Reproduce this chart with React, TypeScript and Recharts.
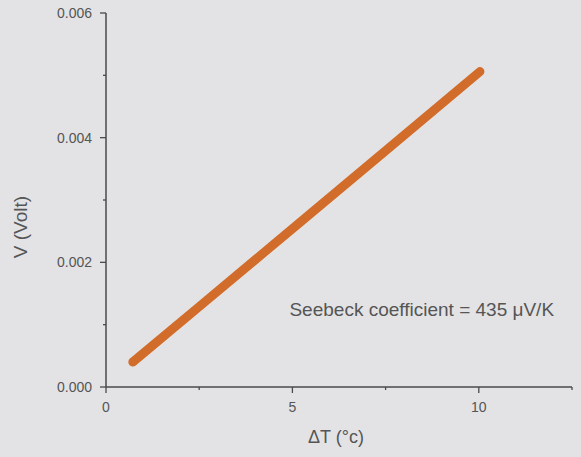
import React from "react";
import { LineChart, Line, XAxis, YAxis, ReferenceDot, Label } from "recharts";

const deltaT = [0.72, 2.5, 5.0, 7.5, 10.03];
const voltage = [0.0004, 0.00129, 0.00254, 0.00379, 0.00506];
const xTicks = [0, 2.5, 5, 7.5, 10, 12.5];
const yTicks = [0, 0.001, 0.002, 0.003, 0.004, 0.005, 0.006];
const annotation = "Seebeck coefficient = 435 \u03bcV/K";
const xTitle = "\u0394T (\u00b0c)";
const yTitle = "V (Volt)";

const data = deltaT.map((t, i) => ({ t, v: voltage[i] }));

const AXIS = "#4a4a4a";
const TEXT = "#555555";
const FONT = "'Liberation Sans', Arial, sans-serif";

const XTick = (props: any) => {
  const { x, y, payload } = props;
  const v = payload.value;
  const major = Math.abs(v % 5) < 1e-9;
  return (
    <g>
      <line x1={x} x2={x} y1={y} y2={y + (major ? 6 : 3)} stroke={AXIS} strokeWidth={1.3} />
      {major && v <= 10 && (
        <text x={x} y={y + 25} textAnchor="middle" fontSize={14} fill={TEXT} fontFamily={FONT}>
          {v}
        </text>
      )}
    </g>
  );
};

const YTick = (props: any) => {
  const { x, y, payload } = props;
  const v = payload.value;
  const major = Math.round(v * 1000) % 2 === 0;
  return (
    <g>
      <line x1={x} x2={x - (major ? 6 : 3)} y1={y} y2={y} stroke={AXIS} strokeWidth={1.3} />
      {major && (
        <text x={x - 14} y={y + 5} textAnchor="end" fontSize={14} fill={TEXT} fontFamily={FONT}>
          {v.toFixed(3)}
        </text>
      )}
    </g>
  );
};

const YTitle = () => (
  <text
    transform="translate(20,227) rotate(-90)"
    textAnchor="middle"
    dominantBaseline="central"
    fontSize={19}
    fill={TEXT}
    fontFamily={FONT}
  >
    {yTitle}
  </text>
);

const XTitle = () => (
  <text x={336} y={443} textAnchor="middle" fontSize={18} fill={TEXT} fontFamily={FONT}>
    {xTitle}
  </text>
);

export default function App() {
  return (
    <div style={{ position: "absolute", left: 0, top: 0, width: 581, height: 457, background: "#e3e3e5" }}>
      <LineChart width={581} height={457} data={data} margin={{ top: 13, right: 9, left: 46, bottom: 40 }}>
        <XAxis
          dataKey="t"
          type="number"
          domain={[0, 12.5]}
          ticks={xTicks}
          interval={0}
          tickSize={0}
          tickMargin={0}
          tick={<XTick />}
          height={30}
          stroke={AXIS}
          strokeWidth={1.5}
          allowDataOverflow
        >
          <Label content={<XTitle />} />
        </XAxis>
        <YAxis
          type="number"
          domain={[0, 0.006]}
          ticks={yTicks}
          interval={0}
          tickSize={0}
          tickMargin={0}
          tick={<YTick />}
          width={60}
          stroke={AXIS}
          strokeWidth={1.5}
          allowDataOverflow
        >
          <Label content={<YTitle />} />
        </YAxis>
        <Line
          type="linear"
          dataKey="v"
          stroke="#d26c2a"
          strokeWidth={9}
          strokeLinecap="round"
          dot={false}
          activeDot={false}
          isAnimationActive={false}
        />
        <ReferenceDot x={8.47} y={0.00124} r={0} fill="none" stroke="none">
          <Label value={annotation} position="center" fontSize={19} fill={TEXT} fontFamily={FONT} />
        </ReferenceDot>
      </LineChart>
    </div>
  );
}
